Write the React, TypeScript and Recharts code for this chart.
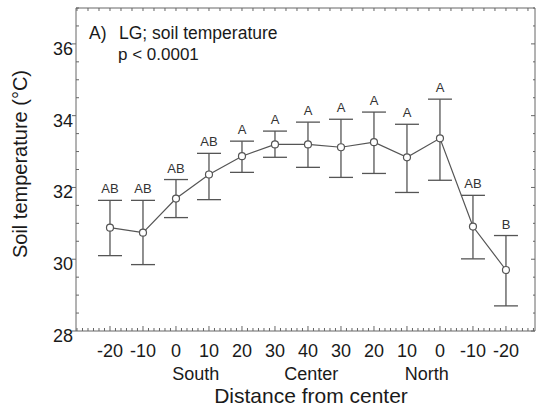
import {
  ComposedChart,
  ErrorBar,
  LabelList,
  Line,
  ReferenceLine,
  XAxis,
  YAxis,
} from "recharts";

const distances = ["-20", "-10", "0", "10", "20", "30", "40", "30", "20", "10", "0", "-10", "-20"];
const means = [30.88, 30.74, 31.69, 32.36, 32.87, 33.2, 33.2, 33.12, 33.26, 32.84, 33.37, 30.91, 29.7];
const upper = [31.64, 31.64, 32.22, 32.95, 33.29, 33.57, 33.82, 33.9, 34.1, 33.76, 34.46, 31.78, 30.66];
const lower = [30.1, 29.85, 31.16, 31.66, 32.42, 32.84, 32.56, 32.28, 32.39, 31.86, 32.2, 30.01, 28.7];
const letters = ["AB", "AB", "AB", "AB", "A", "A", "A", "A", "A", "A", "A", "AB", "B"];

const regions = [
  { name: "South", at: 2.6 },
  { name: "Center", at: 6.1 },
  { name: "North", at: 9.6 },
];

const yMajor = [28, 30, 32, 34, 36];

const data = means.map((m, i) => ({
  i,
  mean: m,
  top: upper[i],
  err: [m - lower[i], upper[i] - m],
  letter: letters[i],
}));

const X_DOMAIN: [number, number] = [-1.03, 12.88];
const Y_DOMAIN: [number, number] = [28, 37];

const bottomTicks: number[] = [];
for (let k = -6; k <= 6 * 12 + 5; k++) bottomTicks.push(k / 6);
const topTicks: number[] = [];
for (let k = -3; k <= 3 * 12 + 2; k++) topTicks.push(k / 3);
const yTicks: number[] = [];
for (let v = 28; v <= 37; v += 0.5) yTicks.push(v);

const AXIS = "#666";
const INK = "#1a1a1a";
const FONT = "'Liberation Sans', Arial, sans-serif";

function BottomTick(props: any) {
  const { x, y, payload } = props;
  const v = payload.value as number;
  const idx = Math.round(v);
  const isMajor = Math.abs(v - idx) < 1e-6 && idx >= 0 && idx < distances.length;
  return (
    <g>
      <line x1={x} x2={x} y1={y} y2={y - (isMajor ? 5 : 3)} stroke={AXIS} strokeWidth={1} />
      {isMajor ? (
        <text x={x} y={y + 26} textAnchor="middle" fontSize={18} fill={INK} fontFamily={FONT}>
          {distances[idx]}
        </text>
      ) : null}
    </g>
  );
}

function TopTick(props: any) {
  const { x, y } = props;
  return <line x1={x} x2={x} y1={y} y2={y + 3} stroke={AXIS} strokeWidth={1} />;
}

function LeftTick(props: any) {
  const { x, y, payload } = props;
  const v = payload.value as number;
  const isMajor = yMajor.includes(v);
  if (isMajor) {
    return (
      <g>
        <line x1={x - 4} x2={x} y1={y} y2={y} stroke={AXIS} strokeWidth={1} />
        <text x={x - 3} y={y + 11} textAnchor="end" fontSize={18} fill={INK} fontFamily={FONT}>
          {v}
        </text>
      </g>
    );
  }
  return <line x1={x} x2={x + 3} y1={y} y2={y} stroke={AXIS} strokeWidth={1} />;
}

function RightTick(props: any) {
  const { x, y, payload } = props;
  const v = payload.value as number;
  const len = yMajor.includes(v) ? 4 : 2;
  return <line x1={x} x2={x - len} y1={y} y2={y} stroke={AXIS} strokeWidth={1} />;
}

export default function App() {
  return (
    <div style={{ position: "absolute", left: 0, top: 0, width: 536, height: 411, background: "#fff" }}>
      <ComposedChart
        width={536}
        height={411}
        data={data}
        margin={{ top: 7, right: 0, bottom: 0, left: 0 }}
      >
        <XAxis
          xAxisId="b"
          dataKey="i"
          type="number"
          domain={X_DOMAIN}
          ticks={bottomTicks}
          interval={0}
          allowDataOverflow
          height={80}
          tickSize={0}
          tickMargin={0}
          stroke={AXIS}
          tick={<BottomTick />}
        />
        <XAxis
          xAxisId="t"
          dataKey="i"
          type="number"
          orientation="top"
          domain={X_DOMAIN}
          ticks={topTicks}
          interval={0}
          allowDataOverflow
          height={1}
          tickSize={0}
          tickMargin={0}
          stroke={AXIS}
          tick={<TopTick />}
        />
        <YAxis
          yAxisId="l"
          domain={Y_DOMAIN}
          ticks={yTicks}
          interval={0}
          allowDataOverflow
          width={76}
          tickSize={0}
          tickMargin={0}
          stroke={AXIS}
          tick={<LeftTick />}
        />
        <YAxis
          yAxisId="r"
          orientation="right"
          domain={Y_DOMAIN}
          ticks={yTicks}
          interval={0}
          allowDataOverflow
          width={1}
          tickSize={0}
          tickMargin={0}
          stroke={AXIS}
          tick={<RightTick />}
        />
        {regions.map((r) => (
          <ReferenceLine
            key={r.name}
            xAxisId="b"
            yAxisId="l"
            x={r.at}
            stroke="none"
            label={{
              value: r.name,
              position: "bottom",
              offset: 36,
              fontSize: 18,
              fill: INK,
              fontFamily: FONT,
            }}
          />
        ))}
        <Line
          xAxisId="b"
          yAxisId="l"
          dataKey="top"
          stroke="none"
          dot={false}
          activeDot={false}
          isAnimationActive={false}
        >
          <LabelList
            dataKey="letter"
            position="top"
            offset={7}
            fontSize={13}
            fill="#333"
            fontFamily={FONT}
          />
        </Line>
        <Line
          xAxisId="b"
          yAxisId="l"
          dataKey="mean"
          type="linear"
          stroke="#555"
          strokeWidth={1.2}
          dot={{ r: 3.5, fill: "#fff", stroke: "#555", strokeWidth: 1.2 }}
          activeDot={false}
          isAnimationActive={false}
        >
          <ErrorBar dataKey="err" width={12} stroke="#555" strokeWidth={1.3} direction="y" />
        </Line>
      </ComposedChart>
      <div
        style={{
          position: "absolute",
          left: 10,
          top: 164,
          transform: "translate(-50%, -50%) rotate(-90deg)",
          transformOrigin: "center",
          marginLeft: 10,
          whiteSpace: "nowrap",
          fontFamily: FONT,
          fontSize: 20,
          color: INK,
        }}
      >
        Soil temperature (°C)
      </div>
      <div
        style={{
          position: "absolute",
          left: 0,
          width: 622,
          top: 384,
          textAlign: "center",
          fontFamily: FONT,
          fontSize: 21,
          color: INK,
          whiteSpace: "nowrap",
        }}
      >
        Distance from center
      </div>
      <div
        style={{
          position: "absolute",
          left: 89,
          top: 23,
          fontFamily: FONT,
          fontSize: 17.5,
          color: INK,
          whiteSpace: "pre",
        }}
      >
        A)
      </div>
      <div
        style={{
          position: "absolute",
          left: 119,
          top: 23,
          fontFamily: FONT,
          fontSize: 17.5,
          color: INK,
          whiteSpace: "pre",
        }}
      >
        LG; soil temperature
      </div>
      <div
        style={{
          position: "absolute",
          left: 118,
          top: 45,
          fontFamily: FONT,
          fontSize: 17,
          color: INK,
          whiteSpace: "pre",
        }}
      >
        {"p < 0.0001"}
      </div>
    </div>
  );
}
